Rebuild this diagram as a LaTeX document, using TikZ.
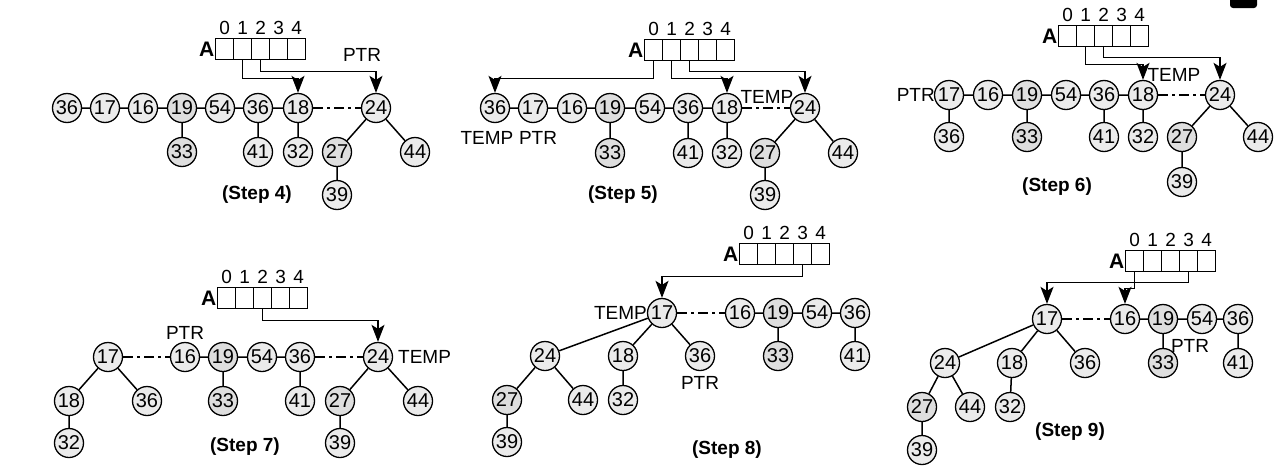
\documentclass[tikz,border=0pt]{standalone}
\usepackage{fontspec}
\setmainfont{Liberation Sans}
\usetikzlibrary{arrows.meta}
\definecolor{lt}{HTML}{EBEBEB}
\definecolor{dkc}{HTML}{DEDEDE}
\tikzset{
 nd/.style={circle, draw, line width=1.3pt, fill=lt, minimum size=29pt, inner sep=0pt, font=\fontsize{20}{20}\selectfont},
 nddk/.style={nd, fill=dkc},
 ln/.style={line width=1.5pt},
 dd/.style={line width=1.5pt, dash pattern=on 10pt off 4pt on 3pt off 4pt},
 ptr/.style={line width=1.5pt, -{Stealth[length=17pt,width=13pt,inset=4pt]}},
 cellbox/.style={draw, line width=1.3pt, minimum width=18pt, minimum height=21pt, inner sep=0pt, anchor=north west},
 idx/.style={anchor=south, inner sep=0pt, yshift=3.5pt, font=\fontsize{19}{20}\selectfont},
 arrlbl/.style={anchor=east, inner sep=0.5pt, font=\bfseries\fontsize{21}{22}\selectfont},
 lbl/.style={inner sep=0pt, font=\fontsize{19}{20}\selectfont},
 steplbl/.style={inner sep=0pt, font=\bfseries\fontsize{19}{21}\selectfont},
}
\newcommand\mkarray[3]{%
 \foreach \i in {0,...,4}{
   \node[cellbox] (#1c\i) at ({#2+18*\i},#3) {};
   \node[idx] at (#1c\i.north) {\i};
 }
 \node[arrlbl] (#1A) at (#1c0.west) {A};
}
\begin{document}
\begin{tikzpicture}[x=1pt,y=-1pt]
\useasboundingbox (0,0) rectangle (1288,469);
\fill[black, rounded corners=3pt] (1230,-6) rectangle (1257,8);

% ---------------- Step 4 ----------------
\mkarray{sa}{215}{38}
\node[nd] (a1) at (67,108) {36};
\node[nd] (a2) at (105,108) {17};
\node[nd] (a3) at (143,108) {16};
\node[nddk] (a4) at (182,108) {19};
\node[nd] (a5) at (220,108) {54};
\node[nd] (a6) at (258,108) {36};
\node[nd] (a7) at (298,108) {18};
\node[nd] (a8) at (376,108) {24};
\node[nddk] (a9) at (182,152) {33};
\node[nd] (a10) at (258,152) {41};
\node[nd] (a11) at (298,152) {32};
\node[nddk] (a12) at (337,152) {27};
\node[nd] (a13) at (415,152) {44};
\node[nd] (a14) at (337,195) {39};
\draw[ln] (a1)--(a2) (a2)--(a3) (a3)--(a4) (a4)--(a5) (a5)--(a6) (a6)--(a7)
  (a4)--(a9) (a6)--(a10) (a7)--(a11) (a8)--(a12) (a8)--(a13) (a12)--(a14);
\draw[dd] (a7)--(a8);
\draw[ptr] (sac1.south) -- ++(0,18) -| (a7.north);
\draw[ptr] (sac2.south) -- ++(0,11) -| (a8.north);
\node[lbl] (ptra) at (362,55) {PTR};
\node[steplbl] (stepa) at (257,195) {(Step 4)};

% ---------------- Step 5 ----------------
\mkarray{sb}{644}{39}
\node[nd] (b1) at (495,108) {36};
\node[nd] (b2) at (533,108) {17};
\node[nd] (b3) at (572,108) {16};
\node[nddk] (b4) at (610,108) {19};
\node[nd] (b5) at (650,108) {54};
\node[nd] (b6) at (688,108) {36};
\node[nd] (b7) at (727,108) {18};
\node[nd] (b8) at (805,108) {24};
\node[nddk] (b9) at (610,153) {33};
\node[nd] (b10) at (688,153) {41};
\node[nd] (b11) at (727,153) {32};
\node[nddk] (b12) at (765,153) {27};
\node[nd] (b13) at (843,153) {44};
\node[nd] (b14) at (765,195) {39};
\draw[ln] (b1)--(b2) (b2)--(b3) (b3)--(b4) (b4)--(b5) (b5)--(b6) (b6)--(b7)
  (b4)--(b9) (b6)--(b10) (b7)--(b11) (b8)--(b12) (b8)--(b13) (b12)--(b14);
\draw[dd] (b7)--(b8);
\draw[ptr] (sbc0.south) -- ++(0,17) -| (b1.north);
\draw[ptr] (sbc1.south) -- ++(0,17) -| (b7.north);
\draw[ptr] (sbc2.south) -- ++(0,10) -| (b8.north);
\node[lbl] (tempb1) at (487,138) {TEMP};
\node[lbl] (ptrb) at (538,138) {PTR};
\node[lbl] (tempb2) at (767,97) {TEMP};
\node[steplbl] (stepb) at (623,195) {(Step 5)};

% ---------------- Step 6 ----------------
\mkarray{sc}{1058}{25}
\node[nd] (c1) at (949,95) {17};
\node[nd] (c2) at (988,95) {16};
\node[nddk] (c3) at (1027,95) {19};
\node[nd] (c4) at (1066,95) {54};
\node[nd] (c5) at (1104,95) {36};
\node[nd] (c6) at (1143,95) {18};
\node[nd] (c7) at (1220,95) {24};
\node[nd] (c8) at (949,137) {36};
\node[nddk] (c9) at (1027,137) {33};
\node[nd] (c10) at (1104,137) {41};
\node[nd] (c11) at (1143,137) {32};
\node[nddk] (c12) at (1182,137) {27};
\node[nd] (c13) at (1258,137) {44};
\node[nd] (c14) at (1182,182) {39};
\draw[ln] (c1)--(c2) (c2)--(c3) (c3)--(c4) (c4)--(c5) (c5)--(c6)
  (c1)--(c8) (c3)--(c9) (c5)--(c10) (c6)--(c11) (c7)--(c12) (c7)--(c13) (c12)--(c14);
\draw[dd] (c6)--(c7);
\draw[ptr] (scc1.south) -- ++(0,17) -| (c6.north);
\draw[ptr] (scc2.south) -- ++(0,10) -| (c7.north);
\node[lbl, anchor=east] (ptrc) at (935,95) {PTR};
\node[lbl] (tempc) at (1174,75) {TEMP};
\node[steplbl] (stepc) at (1057,187) {(Step 6)};

% ---------------- Step 7 ----------------
\mkarray{sd}{217}{287}
\node[nd] (d1) at (108,357) {17};
\node[nd] (d2) at (185,357) {16};
\node[nddk] (d3) at (223,357) {19};
\node[nd] (d4) at (262,357) {54};
\node[nd] (d5) at (300,357) {36};
\node[nd] (d6) at (378,357) {24};
\node[nd] (d7) at (69,401) {18};
\node[nd] (d8) at (147,401) {36};
\node[nddk] (d9) at (223,401) {33};
\node[nd] (d10) at (300,401) {41};
\node[nddk] (d11) at (340,401) {27};
\node[nd] (d12) at (418,401) {44};
\node[nd] (d13) at (69,443) {32};
\node[nd] (d14) at (340,443) {39};
\draw[ln] (d2)--(d3) (d3)--(d4) (d4)--(d5)
  (d1)--(d7) (d1)--(d8) (d7)--(d13) (d3)--(d9) (d5)--(d10) (d6)--(d11) (d6)--(d12) (d11)--(d14);
\draw[dd] (d1)--(d2) (d5)--(d6);
\draw[ptr] (sdc2.south) -- ++(0,11) -| (d6.north);
\node[lbl] (ptrd) at (185,333) {PTR};
\node[lbl, anchor=west] (tempd) at (398,357) {TEMP};
\node[steplbl] (stepd) at (245,447) {(Step 7)};

% ---------------- Step 8 ----------------
\mkarray{se}{739}{243}
\node[nd] (e1) at (662,313) {17};
\node[nd] (e2) at (740,313) {16};
\node[nddk] (e3) at (778,313) {19};
\node[nd] (e4) at (817,313) {54};
\node[nd] (e5) at (855,313) {36};
\node[nd] (e6) at (545,356) {24};
\node[nd] (e7) at (623,356) {18};
\node[nd] (e8) at (700,356) {36};
\node[nddk] (e9) at (778,356) {33};
\node[nd] (e10) at (855,356) {41};
\node[nddk] (e11) at (507,400) {27};
\node[nd] (e12) at (583,400) {44};
\node[nd] (e13) at (623,400) {32};
\node[nd] (e14) at (507,442) {39};
\draw[ln] (e2)--(e3) (e3)--(e4) (e4)--(e5)
  (e1)--(e6) (e1)--(e7) (e1)--(e8) (e3)--(e9) (e5)--(e10)
  (e6)--(e11) (e6)--(e12) (e7)--(e13) (e11)--(e14);
\draw[dd] (e1)--(e2);
\draw[ptr] (sec3.south) -- ++(0,11) -| (e1.north);
\node[lbl, anchor=east] (tempe) at (647,313) {TEMP};
\node[lbl] (ptre) at (700,383) {PTR};
\node[steplbl] (stepe) at (727,450) {(Step 8)};

% ---------------- Step 9 ----------------
\mkarray{sf}{1125}{250}
\node[nd] (f1) at (1047,319) {17};
\node[nd] (f2) at (1125,319) {16};
\node[nddk] (f3) at (1163,319) {19};
\node[nd] (f4) at (1202,319) {54};
\node[nd] (f5) at (1238,319) {36};
\node[nd] (f6) at (945,363) {24};
\node[nd] (f7) at (1012,363) {18};
\node[nd] (f8) at (1085,363) {36};
\node[nddk] (f9) at (1163,363) {33};
\node[nd] (f10) at (1238,363) {41};
\node[nddk] (f11) at (922,407) {27};
\node[nd] (f12) at (970,407) {44};
\node[nd] (f13) at (1010,407) {32};
\node[nd] (f14) at (922,450) {39};
\draw[ln] (f2)--(f3) (f3)--(f4) (f4)--(f5)
  (f1)--(f6) (f1)--(f7) (f1)--(f8) (f3)--(f9) (f5)--(f10)
  (f6)--(f11) (f6)--(f12) (f7)--(f13) (f11)--(f14);
\draw[dd] (f1)--(f2);
\draw[ptr] (sfc3.south) -- ++(0,10) -| (f1.north);
\draw[ptr] (sfc0.south) -- ++(0,16) -| (f2.north);
\node[lbl] (ptrf) at (1190,346) {PTR};
\node[steplbl] (stepf) at (1070,432) {(Step 9)};
\end{tikzpicture}
\end{document}
